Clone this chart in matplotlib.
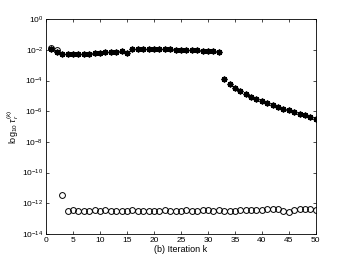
import numpy as np
import matplotlib
matplotlib.use('Agg')
import matplotlib.pyplot as plt

plt.rcParams['font.family'] = ['Liberation Sans', 'DejaVu Sans']
plt.rcParams['mathtext.fontset'] = 'custom'
plt.rcParams['mathtext.rm'] = 'Liberation Sans'
plt.rcParams['mathtext.it'] = 'Liberation Sans:italic'

# iterations
k = np.arange(1, 51)

# log10 of the star series
star_log = [-1.95, -2.12, -2.24, -2.28, -2.30, -2.26, -2.26, -2.24, -2.22, -2.20,
            -2.13, -2.11, -2.15, -2.07, -2.20, -1.95, -1.95, -1.95, -1.96, -1.96,
            -1.96, -1.97, -1.97, -1.98, -1.99, -2.00, -2.01, -2.03, -2.05, -2.08,
            -2.10, -2.12,
            -3.93, -4.25, -4.51, -4.71, -4.88, -5.06, -5.21, -5.34, -5.47, -5.60,
            -5.71, -5.84, -5.95, -6.05, -6.16, -6.25, -6.36, -6.51]

# log10 of the circle series
circ_log = [-1.90, -2.00, -11.46, -12.48, -12.47, -12.52, -12.49, -12.50, -12.47, -12.49,
            -12.46, -12.51, -12.49, -12.53, -12.50, -12.47, -12.50, -12.48, -12.49, -12.51,
            -12.48, -12.47, -12.49, -12.50, -12.48, -12.46, -12.49, -12.50, -12.47, -12.45,
            -12.49, -12.47, -12.49, -12.50, -12.48, -12.46, -12.47, -12.44, -12.46, -12.47,
            -12.40, -12.36, -12.38, -12.48, -12.58, -12.46, -12.38, -12.36, -12.37, -12.46]

fig = plt.figure(figsize=(3.49, 2.62), dpi=100)
ax = fig.add_axes([0.132, 0.107, 0.773, 0.82])

ax.semilogy(k, 10.0 ** np.array(circ_log), 'o', mfc='none', mec='black',
            markersize=4.2, markeredgewidth=0.7, linestyle='none')
# MATLAB-style asterisk
ax.semilogy(k, 10.0 ** np.array(star_log), marker=(8, 2, 0), color='black',
            markersize=4.2, markeredgewidth=1.1, linestyle='none')

ax.set_xlim(0, 50)
ax.set_ylim(1e-14, 1e0)
ax.set_xticks(np.arange(0, 51, 5))
ax.set_yticks([10.0 ** e for e in range(-14, 1, 2)])
ax.tick_params(which='both', direction='in', top=True, right=True,
               labelsize=6, colors='black', length=2.5, width=0.5, pad=2)
ax.tick_params(which='minor', length=1.3)
for s in ax.spines.values():
    s.set_linewidth(0.6)

ax.set_xlabel('(b) Iteration k', fontsize=6.5, labelpad=1)
ax.set_ylabel(r'log$_{10}$ $\tau_r^{(k)}$', fontsize=6.5, labelpad=1)

fig.savefig('out.png', dpi=100)
